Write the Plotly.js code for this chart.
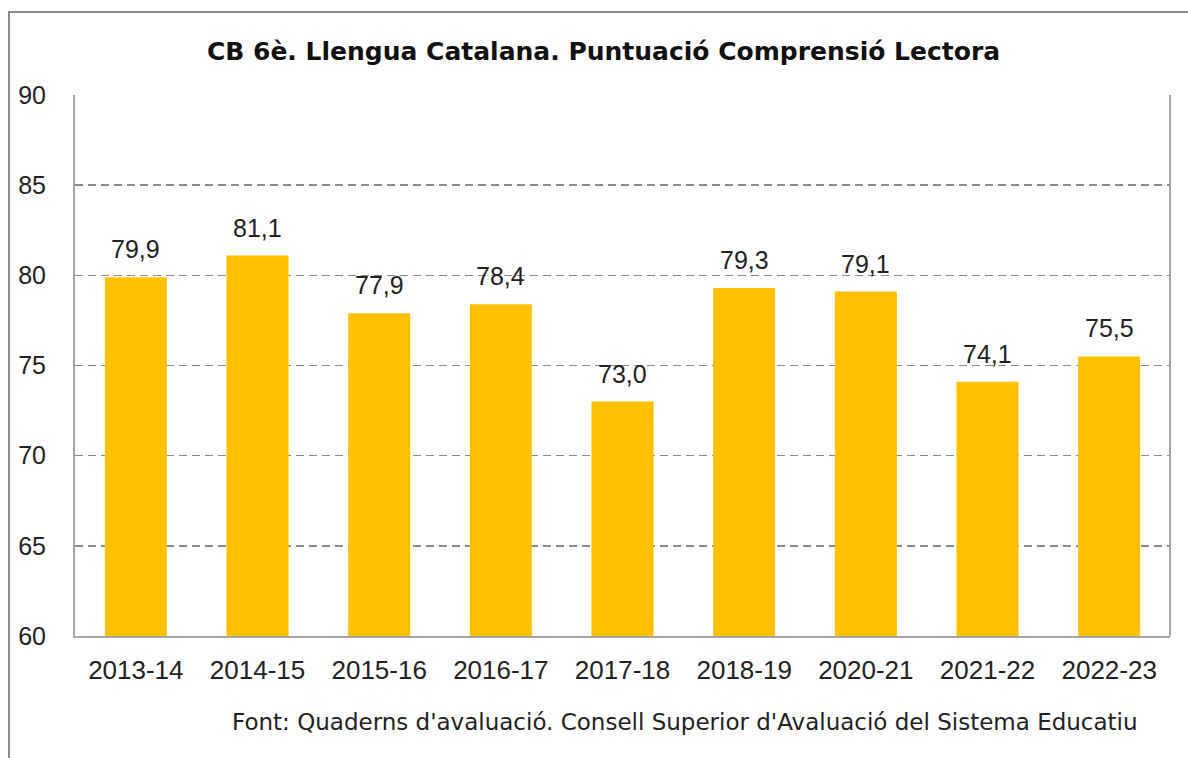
<!DOCTYPE html>
<html>
<head>
<meta charset="utf-8">
<script src="https://cdn.plot.ly/plotly-3.0.1.min.js"></script>
<style>
html,body{margin:0;padding:0;background:#fff;}
#wrap{position:relative;width:1188px;height:758px;overflow:hidden;}
#chart{width:1188px;height:758px;}
#frame{position:absolute;left:8px;top:11px;width:1190px;height:760px;border-left:2px solid #8c8c8c;border-top:2px solid #8c8c8c;pointer-events:none;}
</style>
</head>
<body>
<div id="wrap"><div id="chart"></div><div id="frame"></div></div>
<script>
const categories = ['2013-14','2014-15','2015-16','2016-17','2017-18','2018-19','2020-21','2021-22','2022-23'];
const scores = [79.9, 81.1, 77.9, 78.4, 73.0, 79.3, 79.1, 74.1, 75.5];
const yTicks = [60, 65, 70, 75, 80, 85, 90];
const chartTitle = 'CB 6è. Llengua Catalana. Puntuació Comprensió Lectora';
const sourceText = "Font: Quaderns d'avaluació. Consell Superior d'Avaluació del Sistema Educatiu";

const FONT = '"Liberation Sans", Arial, sans-serif';
const WIDE = '"DejaVu Sans", sans-serif';

const trace = {
  type: 'bar',
  x: categories,
  y: scores,
  marker: {color: '#FFC000'},
  hoverinfo: 'x+y'
};

const labelAnnotations = categories.map((c, i) => ({
  x: c, y: scores[i], xref: 'x', yref: 'y',
  text: scores[i].toFixed(1).replace('.', ','),
  showarrow: false, xanchor: 'center', yanchor: 'bottom', yshift: 12,
  font: {family: FONT, size: 25, color: '#222'}
}));

const layout = {
  width: 1188, height: 758,
  margin: {l: 75, r: 18, t: 95, b: 122},
  paper_bgcolor: '#fff', plot_bgcolor: '#fff',
  separators: ',.',
  bargap: 0.49,
  showlegend: false,
  font: {family: FONT, color: '#222'},
  title: {
    text: '<b>' + chartTitle + '</b>',
    font: {family: WIDE, size: 25, color: '#111'},
    xref: 'container', x: 0.508, xanchor: 'center',
    yref: 'container', y: 1 - 51/758, yanchor: 'middle'
  },
  xaxis: {
    type: 'category',
    showline: true, linecolor: '#a6a6a6', linewidth: 2,
    ticks: '', tickfont: {family: FONT, size: 26, color: '#222'},
    ticklabelstandoff: 10,
    showgrid: false
  },
  yaxis: {
    range: [60, 90],
    tickvals: yTicks,
    showline: true, linecolor: '#a6a6a6', linewidth: 2,
    showgrid: true, gridcolor: '#8a8a8a', griddash: '8px,5px', gridwidth: 1.5,
    zeroline: false,
    ticks: '', ticklabelstandoff: 22,
    tickfont: {family: FONT, size: 25, color: '#222'}
  },
  shapes: [
    {type: 'line', xref: 'paper', yref: 'paper', x0: 1, x1: 1, y0: 0, y1: 1,
     line: {color: '#a6a6a6', width: 2}}
  ],
  annotations: labelAnnotations.concat([
    {text: sourceText, xref: 'paper', yref: 'paper', x: (1140-75)/1095, y: -(722-636)/541,
     xanchor: 'right', yanchor: 'middle', showarrow: false,
     font: {family: WIDE, size: 23, color: '#222'}}
  ])
};

Plotly.newPlot('chart', [trace], layout, {displayModeBar: false, staticPlot: true});
</script>
</body>
</html>
